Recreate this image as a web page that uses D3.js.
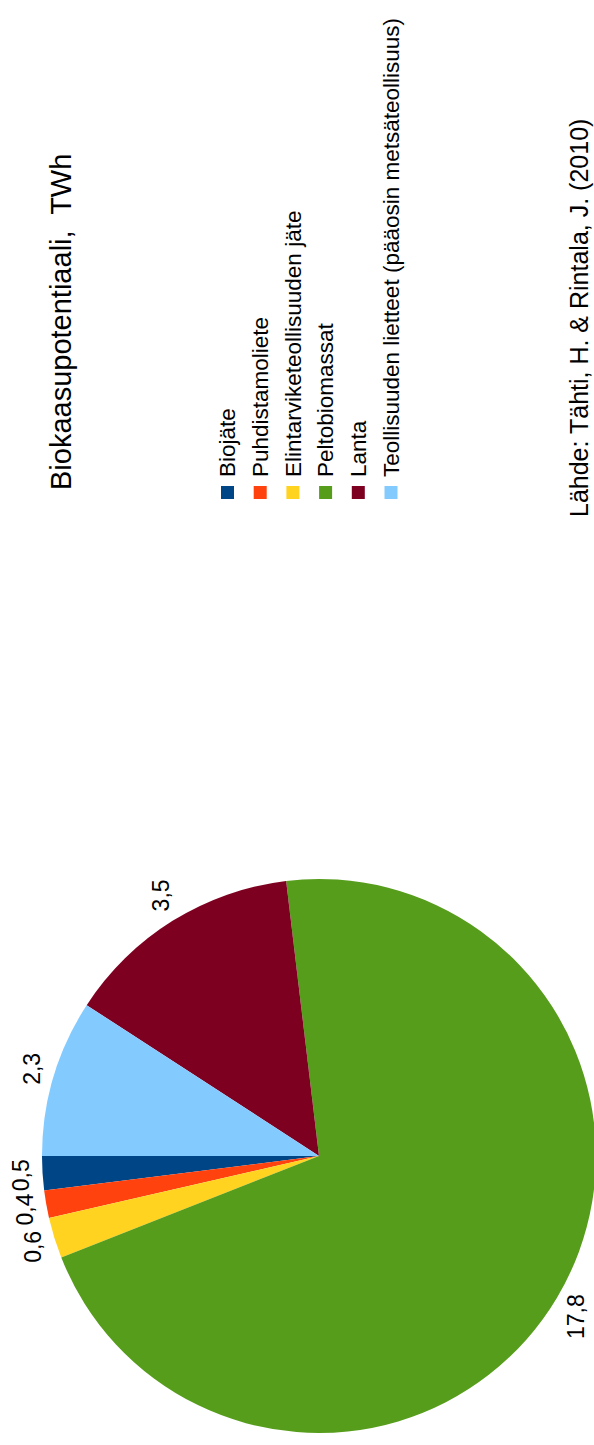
<!DOCTYPE html>
<html>
<head>
<meta charset="utf-8">
<script src="https://cdn.jsdelivr.net/npm/d3@7"></script>
<style>
    body { margin: 0; background: #fff; }
    text { font-family: "Liberation Sans", Arial, sans-serif; fill: #000; }
</style>
</head>
<body>
<div id="chart"></div>
<script>
// chart data
var CATEGORIES = ["Biojäte", "Puhdistamoliete", "Elintarviketeollisuuden jäte",
    "Peltobiomassat", "Lanta", "Teollisuuden lietteet (pääosin metsäteollisuus)"];
var VALUES = [0.5, 0.4, 0.6, 17.8, 3.5, 2.3];
var TITLE = "Biokaasupotentiaali,  TWh";
var SOURCE = "Lähde: Tähti, H. & Rintala, J. (2010)";

var SLICE_COLORS = ["#004586", "#ff420e", "#ffd320", "#579d1c", "#7e0021", "#83caff"];

var WIDTH = 594;
var HEIGHT = 1445;

// the whole chart is drawn sideways: inner coords are 1445 wide, 594 tall
var PIE_CX = 289;
var PIE_CY = 319;
var PIE_R = 277;
var LABEL_R = PIE_R + 14;
var LABEL_FONT = 23;
var LABEL_HALF_H = 8;

var LEGEND_X = 946;
var LEGEND_Y0 = 221;
var LEGEND_STEP = 32.7;
var LEGEND_SQ = 13;
var LEGEND_FONT = 22.5;

var svg = d3.select("#chart").append("svg")
    .attr("width", WIDTH)
    .attr("height", HEIGHT);

var g = svg.append("g")
    .attr("transform", "translate(0," + HEIGHT + ") rotate(-90)");

var color = d3.scaleOrdinal()
    .domain(CATEGORIES)
    .range(SLICE_COLORS);

var locale = d3.formatLocale({decimal: ",", thousands: " ", grouping: [3], currency: ["", "€"]});
var fmt = locale.format(".1f");

// slices run counter-clockwise from 12 o'clock
var pie = d3.pie()
    .sort(null)
    .startAngle(0)
    .endAngle(-2 * Math.PI)
    .value((d, i) => VALUES[i]);

var arcs = pie(CATEGORIES);

var arc = d3.arc()
    .innerRadius(0)
    .outerRadius(PIE_R);

var pieG = g.append("g")
    .attr("transform", "translate(" + PIE_CX + "," + PIE_CY + ")");

pieG.selectAll("path.slice")
    .data(arcs)
    .enter()
    .append("path")
    .attr("class", "slice")
    .attr("d", arc)
    .attr("fill", d => color(d.data));

// value labels outside the pie
var labels = pieG.selectAll("text.value-label")
    .data(arcs)
    .enter()
    .append("text")
    .attr("class", "value-label")
    .attr("text-anchor", "middle")
    .attr("dy", "0.35em")
    .style("font-size", LABEL_FONT + "px")
    .text(d => fmt(d.value));

labels.each(function(d) {
    var a = (d.startAngle + d.endAngle) / 2;
    var dx = Math.sin(a);
    var dy = -Math.cos(a);
    var w = this.getComputedTextLength();
    var x = dx * LABEL_R + dx * w / 2;
    var y = dy * LABEL_R + dy * LABEL_HALF_H;
    d3.select(this).attr("x", x).attr("y", y);
});

// title
g.append("text")
    .attr("class", "title")
    .attr("x", 955)
    .attr("y", 71)
    .style("font-size", "29px")
    .style("white-space", "pre")
    .text(TITLE);

// legend
var legend = g.selectAll("g.legend-item")
    .data(CATEGORIES)
    .enter()
    .append("g")
    .attr("class", "legend-item")
    .attr("transform", (d, i) => "translate(" + LEGEND_X + "," + (LEGEND_Y0 + i * LEGEND_STEP) + ")");

legend.append("rect")
    .attr("width", LEGEND_SQ)
    .attr("height", LEGEND_SQ)
    .attr("fill", d => color(d));

legend.append("text")
    .attr("x", LEGEND_SQ + 9)
    .attr("y", LEGEND_SQ / 2)
    .attr("dy", "0.35em")
    .style("font-size", LEGEND_FONT + "px")
    .text(d => d);

// source note
g.append("text")
    .attr("class", "source")
    .attr("x", 928)
    .attr("y", 588)
    .style("font-size", "25px")
    .text(SOURCE);
</script>
</body>
</html>
